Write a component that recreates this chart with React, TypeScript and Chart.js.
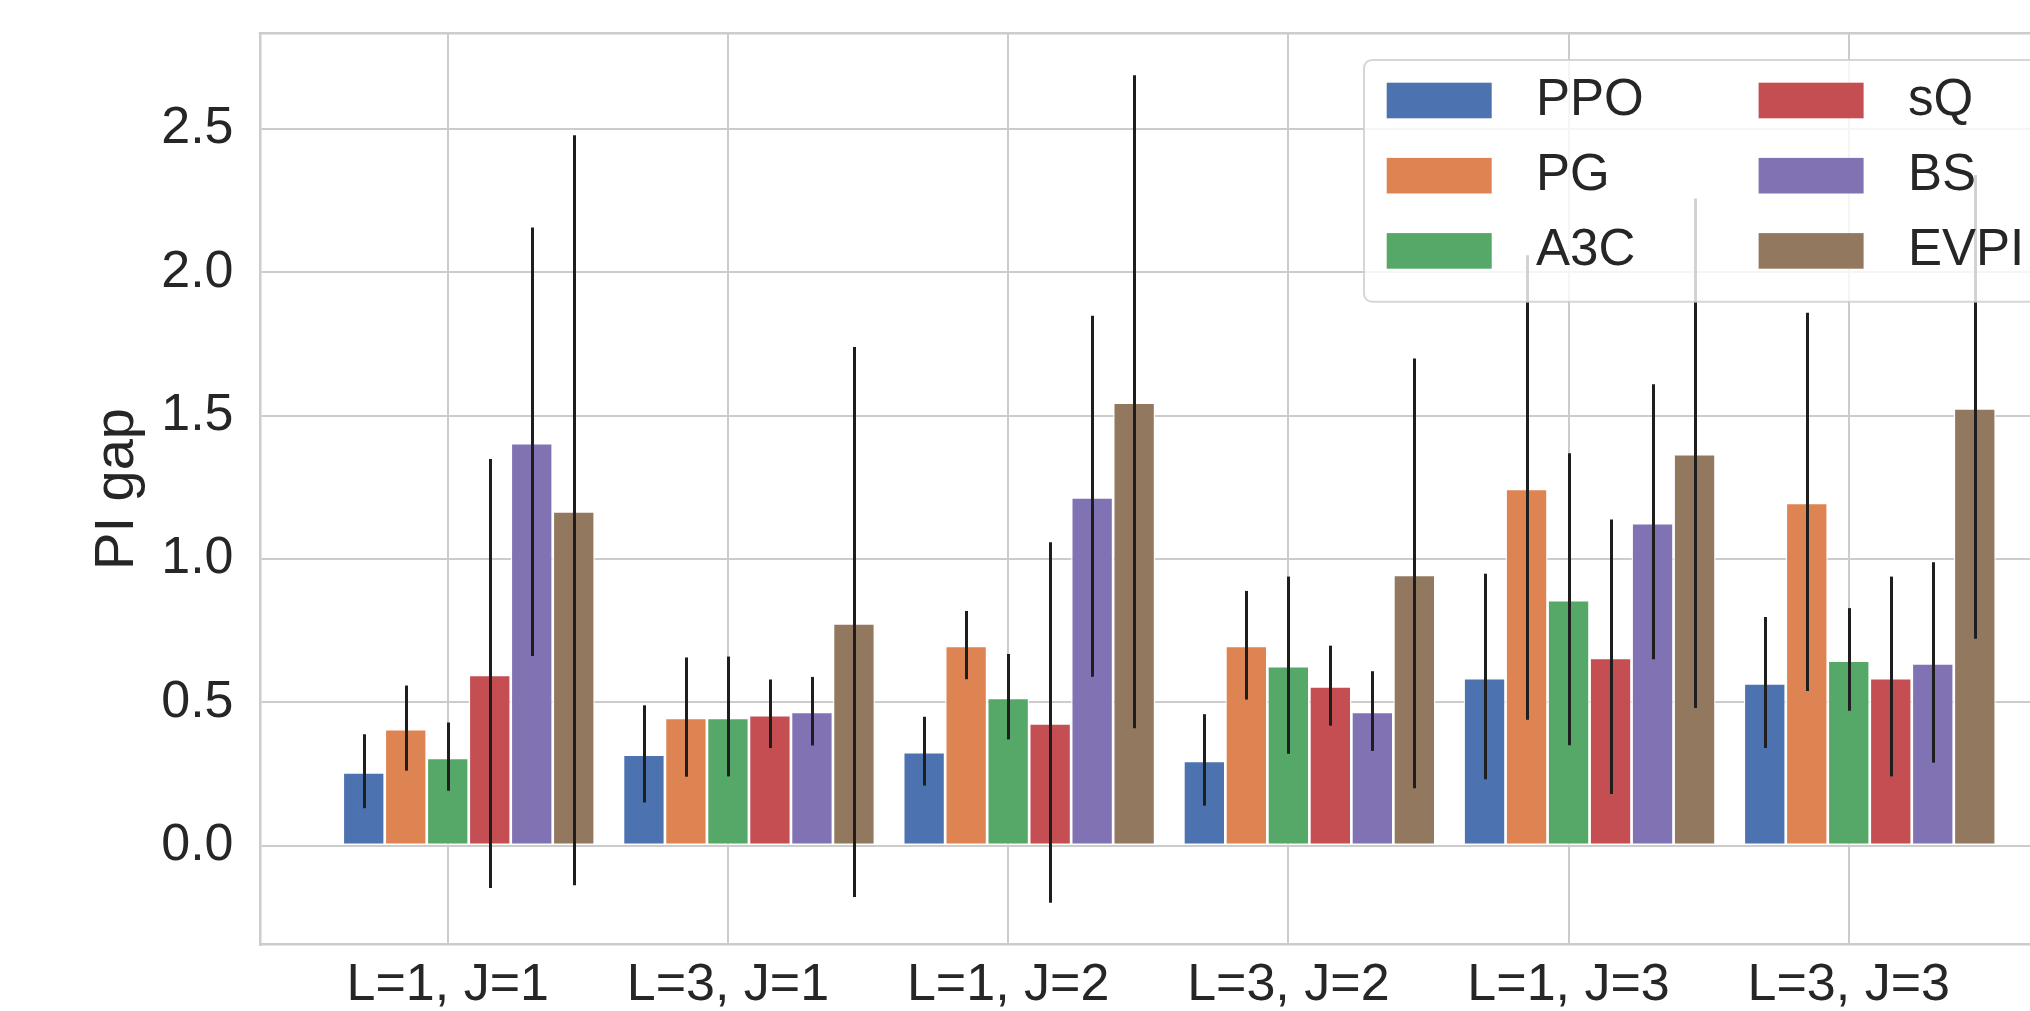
import React, { useEffect, useRef } from 'react';
import { Chart, registerables } from 'chart.js';

Chart.register(...registerables);

// ---------- data ----------
const categories = ['L=1, J=1', 'L=3, J=1', 'L=1, J=2', 'L=3, J=2', 'L=1, J=3', 'L=3, J=3'];
const seriesNames = ['PPO', 'PG', 'A3C', 'sQ', 'BS', 'EVPI'];
const seriesColors = ['#4C72B0', '#DD8452', '#55A868', '#C44E52', '#8172B3', '#937860'];

const ppo = [0.256, 0.318, 0.327, 0.296, 0.585, 0.566];
const ppoLow = [0.131, 0.151, 0.21, 0.14, 0.232, 0.341];
const ppoHigh = [0.389, 0.49, 0.45, 0.459, 0.949, 0.798];

const pg = [0.407, 0.446, 0.697, 0.697, 1.245, 1.196];
const pgLow = [0.262, 0.241, 0.581, 0.51, 0.44, 0.54];
const pgHigh = [0.559, 0.657, 0.819, 0.889, 2.06, 1.859];

const a3c = [0.307, 0.446, 0.516, 0.627, 0.857, 0.646];
const a3cLow = [0.192, 0.242, 0.371, 0.321, 0.351, 0.471];
const a3cHigh = [0.43, 0.66, 0.669, 0.939, 1.369, 0.829];

const sq = [0.596, 0.456, 0.427, 0.556, 0.655, 0.585];
const sqLow = [-0.147, 0.341, -0.199, 0.419, 0.181, 0.242];
const sqHigh = [1.349, 0.58, 1.059, 0.698, 1.138, 0.939];

const bs = [1.404, 0.467, 1.215, 0.467, 1.125, 0.636];
const bsLow = [0.662, 0.35, 0.59, 0.331, 0.651, 0.29];
const bsHigh = [2.157, 0.589, 1.849, 0.609, 1.61, 0.989];

const evpi = [1.166, 0.776, 1.546, 0.945, 1.366, 1.526];
const evpiLow = [-0.138, -0.179, 0.41, 0.201, 0.481, 0.722];
const evpiHigh = [2.478, 1.74, 2.688, 1.7, 2.258, 2.34];

const yTicks = [0, 0.5, 1.0, 1.5, 2.0, 2.5];
const yLabel = 'PI gap';

const seriesValues = [ppo, pg, a3c, sq, bs, evpi];
const seriesLow = [ppoLow, pgLow, a3cLow, sqLow, bsLow, evpiLow];
const seriesHigh = [ppoHigh, pgHigh, a3cHigh, sqHigh, bsHigh, evpiHigh];

// ---------- styles ----------
const FONT = '"Liberation Sans", Arial, Helvetica, sans-serif';
const TEXT = '#262626';
const GRID = '#cccccc';

const framePlugin = {
  id: 'topSpine',
  beforeDatasetsDraw(chart: any) {
    const { ctx, chartArea } = chart;
    ctx.save();
    ctx.strokeStyle = GRID;
    ctx.lineWidth = 2.5;
    ctx.beginPath();
    ctx.moveTo(chartArea.left - 1.25, chartArea.top);
    ctx.lineTo(chartArea.right, chartArea.top);
    ctx.stroke();
    ctx.restore();
  },
};

const errorBarPlugin = {
  id: 'errorBars',
  afterDatasetsDraw(chart: any) {
    const { ctx } = chart;
    const yScale = chart.scales.y;
    ctx.save();
    ctx.strokeStyle = '#1e1e1e';
    ctx.lineWidth = 3;
    ctx.lineCap = 'butt';
    seriesValues.forEach((_, si) => {
      const meta = chart.getDatasetMeta(si + 1);
      meta.data.forEach((bar: any, i: number) => {
        const x = Math.round(bar.x) + 0.5;
        ctx.beginPath();
        ctx.moveTo(x, yScale.getPixelForValue(seriesLow[si][i]));
        ctx.lineTo(x, yScale.getPixelForValue(seriesHigh[si][i]));
        ctx.stroke();
      });
    });
    ctx.restore();
  },
};

const legendPlugin = {
  id: 'boxLegend',
  afterDraw(chart: any) {
    const { ctx } = chart;
    const left = 1364;
    const top = 60;
    const bottom = 301.7;
    ctx.save();
    ctx.beginPath();
    (ctx as any).roundRect(left, top, 900, bottom - top, 8);
    ctx.fillStyle = 'rgba(255,255,255,0.8)';
    ctx.fill();
    ctx.strokeStyle = 'rgba(204,204,204,0.8)';
    ctx.lineWidth = 2;
    ctx.stroke();

    const patchX = [1386.7, 1758.6];
    const textX = [1536, 1908];
    const patchW = 105;
    const patchH = 35.6;
    const rowTop = 82.7;
    const rowPitch = 75.2;
    ctx.font = `51px ${FONT}`;
    ctx.textBaseline = 'middle';
    ctx.textAlign = 'left';
    seriesNames.forEach((name, k) => {
      const col = Math.floor(k / 3);
      const row = k % 3;
      const py = rowTop + row * rowPitch;
      ctx.fillStyle = seriesColors[k];
      ctx.fillRect(patchX[col], py, patchW, patchH);
      ctx.fillStyle = TEXT;
      ctx.fillText(name, textX[col], py + patchH / 2);
    });
    ctx.restore();
  },
};

export default function App() {
  const ref = useRef<HTMLCanvasElement>(null);

  useEffect(() => {
    const canvas = ref.current;
    if (!canvas) return;

    const datasets: any[] = [
      {
        label: '',
        data: categories.map((_, i) => ({ x: i, y: null })),
        backgroundColor: 'rgba(0,0,0,0)',
        borderWidth: 0,
      },
      ...seriesNames.map((name, si) => ({
        label: name,
        data: categories.map((_, i) => ({ x: i, y: seriesValues[si][i] })),
        backgroundColor: seriesColors[si],
        borderColor: '#ffffff',
        borderWidth: 1.35,
        borderSkipped: false,
      })),
    ];

    const chart = new Chart(canvas, {
      type: 'bar',
      data: { datasets },
      options: {
        responsive: false,
        animation: false,
        devicePixelRatio: 1,
        events: [],
        layout: { autoPadding: false, padding: { left: 0, top: 33.3, right: 43.5, bottom: 0 } },
        plugins: {
          legend: { display: false },
          tooltip: { enabled: false },
        },
        datasets: {
          bar: { categoryPercentage: 294 / 280.2, barPercentage: 1 },
        },
        scales: {
          x: {
            type: 'linear',
            min: -0.67,
            max: 5.67,
            offset: false,
            afterBuildTicks: (scale: any) => {
              scale.ticks = categories.map((_, i) => ({ value: i }));
            },
            afterFit: (scale: any) => {
              scale.height = 66.3;
              scale.paddingLeft = 0;
              scale.paddingRight = 0;
            },
            ticks: {
              callback: (v: any) => categories[Math.round(Number(v))] ?? '',
              font: { family: FONT, size: 52 },
              color: TEXT,
              padding: 10,
              maxRotation: 0,
              autoSkip: false,
            },
            grid: { color: GRID, lineWidth: 2, drawTicks: false, offset: false },
            border: { display: true, color: GRID, width: 2.5 },
          },
          y: {
            type: 'linear',
            min: -0.345,
            max: 2.834,
            afterBuildTicks: (scale: any) => {
              scale.ticks = yTicks.map((v) => ({ value: v }));
            },
            afterFit: (scale: any) => {
              scale.width = 260;
              scale.paddingTop = 0;
              scale.paddingBottom = 0;
            },
            ticks: {
              callback: (v: any) => Number(v).toFixed(1),
              font: { family: FONT, size: 52 },
              color: TEXT,
              padding: 26.5,
            },
            grid: { color: GRID, lineWidth: 2, drawTicks: false },
            border: { display: true, color: GRID, width: 2.5 },
            title: {
              display: true,
              text: yLabel,
              font: { family: FONT, size: 56 },
              color: TEXT,
              padding: { top: 83.8, bottom: 0 },
            },
          },
        },
      } as any,
      plugins: [framePlugin, errorBarPlugin, legendPlugin],
    });

    return () => chart.destroy();
  }, []);

  return (
    <div
      style={{
        position: 'fixed',
        left: 0,
        top: 0,
        width: 2030,
        height: 1011,
        overflow: 'hidden',
        background: '#ffffff',
      }}
    >
      <canvas ref={ref} width={2080} height={1011} style={{ display: 'block', width: 2080, height: 1011 }} />
    </div>
  );
}
